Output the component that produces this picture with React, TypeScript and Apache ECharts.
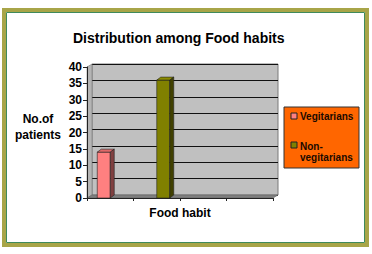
import React, { useEffect, useRef } from "react";
import * as echarts from "echarts";

const categories = ["", "", "", ""];
const seriesNames = ["Vegitarians", "Non-vegitarians"];
const vegitarians: (number | null)[] = [14, null, null, null];
const nonVegitarians: (number | null)[] = [null, 36, null, null];
const yTicks = { min: 0, max: 40, interval: 5 };

const FONT = "'Liberation Sans', Arial, sans-serif";
const FRONT = { left: 87, top: 67, width: 186, height: 131 };
const DX = 5;
const DY = 3;
const BAR_W = 13;
const BAR_DX = 4;
const BAR_DY = 3;

const toData = (arr: (number | null)[]) =>
  arr.map((v, i) => (v == null ? null : [i, v])).filter((d) => d !== null) as number[][];

const makeRender = (side: number, front: string, top: string, right: string) =>
  (params: any, api: any) => {
    const cat = api.value(0);
    const val = api.value(1);
    const b = api.coord([cat, 0]);
    const t = api.coord([cat, val]);
    const x0 = side < 0 ? b[0] - BAR_W : b[0];
    const x1 = x0 + BAR_W;
    const y0 = t[1];
    const y1 = b[1];
    const stroke = { stroke: "#222", lineWidth: 0.6 };
    return {
      type: "group",
      children: [
        { type: "rect", shape: { x: x0, y: y0, width: BAR_W, height: y1 - y0 }, style: { fill: front, ...stroke } },
        {
          type: "polygon",
          shape: { points: [[x0, y0], [x0 + BAR_DX, y0 - BAR_DY], [x1 + BAR_DX, y0 - BAR_DY], [x1, y0]] },
          style: { fill: top, ...stroke },
        },
        {
          type: "polygon",
          shape: { points: [[x1, y0], [x1 + BAR_DX, y0 - BAR_DY], [x1 + BAR_DX, y1 - BAR_DY], [x1, y1]] },
          style: { fill: right, ...stroke },
        },
      ],
    };
  };

export default function App() {
  const ref = useRef<HTMLDivElement>(null);
  useEffect(() => {
    if (!ref.current) return;
    const chart = echarts.init(ref.current, undefined, { renderer: "svg" });
    const fl = FRONT.left, ft = FRONT.top, fw = FRONT.width, fh = FRONT.height;
    const fb = ft + fh;
    chart.setOption({
      animation: false,
      backgroundColor: "#ffffff",
      textStyle: { fontFamily: FONT },
      title: {
        text: "Distribution among Food habits",
        left: 68,
        top: 26,
        textStyle: { fontFamily: FONT, fontSize: 14, fontWeight: "bold", color: "#000" },
      },
      grid: [
        { left: fl, top: ft, width: fw, height: fh, containLabel: false },
        {
          left: fl + DX, top: ft - DY, width: fw, height: fh, show: true,
          backgroundColor: "#C0C0C0", borderColor: "#7a7a7a", borderWidth: 1, z: -1,
        },
      ],
      xAxis: [
        {
          type: "category", gridIndex: 0, data: categories, boundaryGap: true,
          name: "Food habit", nameLocation: "middle", nameGap: 9,
          nameTextStyle: { fontFamily: FONT, fontSize: 12, fontWeight: "bold", color: "#000" },
          axisLine: { lineStyle: { color: "#222", width: 1 } },
          axisTick: { show: true, length: 3, lineStyle: { color: "#222" } },
          axisLabel: { show: false },
          splitLine: { show: false },
        },
        {
          type: "category", gridIndex: 1, data: categories, show: false,
        },
      ],
      yAxis: [
        {
          type: "value", gridIndex: 0, ...yTicks,
          axisLine: { show: true, lineStyle: { color: "#222", width: 1 } },
          axisTick: { show: true, length: 4, lineStyle: { color: "#222" } },
          axisLabel: { margin: 5, fontFamily: FONT, fontSize: 12, fontWeight: "bold", color: "#000" },
          splitLine: { show: false },
        },
        {
          type: "value", gridIndex: 1, ...yTicks,
          axisLine: { show: false }, axisTick: { show: false }, axisLabel: { show: false },
          splitLine: { show: true, lineStyle: { color: "#111", width: 1 } },
          z: -1,
        },
      ],
      graphic: [
        // frame
        { type: "rect", shape: { x: 4, y: 10, width: 363, height: 235 }, style: { fill: "none", stroke: "#A8A548", lineWidth: 4 }, z: 0 },
        { type: "rect", shape: { x: 6.5, y: 12.5, width: 358, height: 230 }, style: { fill: "none", stroke: "#3E8A5C", lineWidth: 1 }, z: 0 },
        // left wall
        {
          type: "polygon", z: 0,
          shape: { points: [[fl, fb], [fl, ft], [fl + DX, ft - DY], [fl + DX, fb - DY]] },
          style: { fill: "#B4B4B4", stroke: "#7a7a7a", lineWidth: 0.6 },
        },
        // floor
        {
          type: "polygon", z: 0,
          shape: { points: [[fl, fb], [fl + DX, fb - DY], [fl + fw + DX, fb - DY], [fl + fw, fb]] },
          style: { fill: "#808080", stroke: "#606060", lineWidth: 0.6 },
        },
        // y-axis name
        {
          type: "text", x: 38, y: 127, z: 10,
          style: { text: "No.of\npatients", fontFamily: FONT, fontSize: 12, fontWeight: "bold", fill: "#000", align: "center", verticalAlign: "middle", lineHeight: 16 },
        },
        // legend
        {
          type: "group", x: 284, y: 107, z: 10,
          children: [
            { type: "rect", shape: { x: 0, y: 0, width: 75, height: 61 }, style: { fill: "#FF6600", stroke: "#333", lineWidth: 1 } },
            { type: "rect", shape: { x: 7, y: 6, width: 6, height: 6 }, style: { fill: "#FF8080", stroke: "#222", lineWidth: 1 } },
            { type: "text", x: 16, y: 9, style: { text: seriesNames[0], fontFamily: FONT, fontSize: 10, fontWeight: "bold", fill: "#1a0a00", verticalAlign: "middle" } },
            { type: "rect", shape: { x: 7, y: 35, width: 6, height: 6 }, style: { fill: "#808000", stroke: "#222", lineWidth: 1 } },
            { type: "text", x: 16, y: 34, style: { text: "Non-\nvegitarians", fontFamily: FONT, fontSize: 10, fontWeight: "bold", fill: "#1a0a00", verticalAlign: "top", lineHeight: 11 } },
          ],
        },
      ],
      series: [
        {
          name: seriesNames[0], type: "custom", xAxisIndex: 0, yAxisIndex: 0, z: 5,
          renderItem: makeRender(-1, "#FF8080", "#E06868", "#804040"),
          data: toData(vegitarians),
        },
        {
          name: seriesNames[1], type: "custom", xAxisIndex: 0, yAxisIndex: 0, z: 5,
          renderItem: makeRender(1, "#808000", "#8C8C00", "#404000"),
          data: toData(nonVegitarians),
        },
      ],
    });
    return () => chart.dispose();
  }, []);
  return <div ref={ref} style={{ position: "fixed", left: 0, top: 0, width: 372, height: 254 }} />;
}
